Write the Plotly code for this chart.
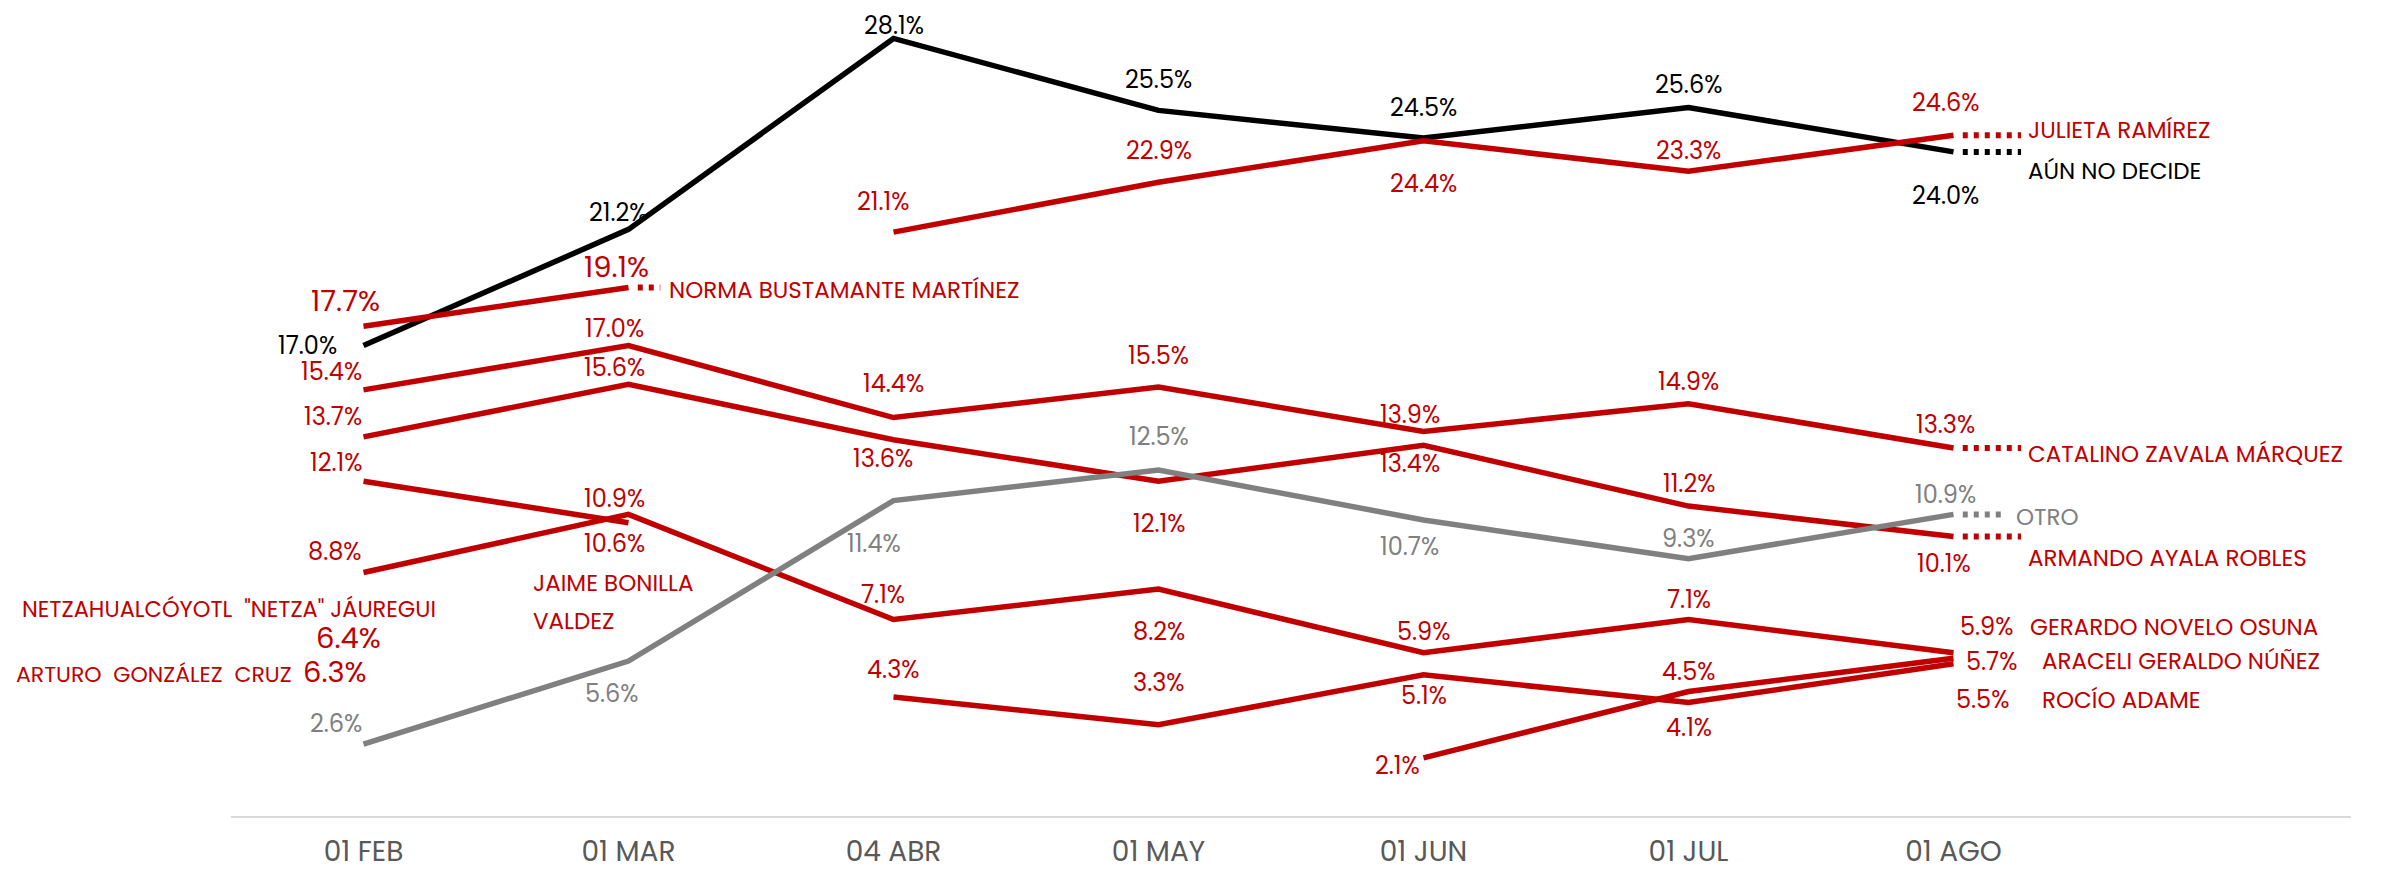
import plotly.graph_objects as go

# --- datos ---
fechas = ["01 FEB", "01 MAR", "04 ABR", "01 MAY", "01 JUN", "01 JUL", "01 AGO"]

aun_no_decide = [17.0, 21.2, 28.1, 25.5, 24.5, 25.6, 24.0]
julieta_ramirez = [None, None, 21.1, 22.9, 24.4, 23.3, 24.6]
norma_bustamante = [17.7, 19.1, None, None, None, None, None]
catalino_zavala = [15.4, 17.0, 14.4, 15.5, 13.9, 14.9, 13.3]
armando_ayala = [13.7, 15.6, 13.6, 12.1, 13.4, 11.2, 10.1]
jaime_bonilla = [12.1, 10.6, None, None, None, None, None]
gerardo_novelo = [8.8, 10.9, 7.1, 8.2, 5.9, 7.1, 5.9]
rocio_adame = [None, None, 4.3, 3.3, 5.1, 4.1, 5.5]
araceli_geraldo = [None, None, None, None, 2.1, 4.5, 5.7]
otro = [2.6, 5.6, 11.4, 12.5, 10.7, 9.3, 10.9]
netza_jauregui = [6.4, None, None, None, None, None, None]
arturo_gonzalez = [6.3, None, None, None, None, None, None]

ROJO = "#c00000"
NEGRO = "#000000"
GRIS = "#808080"
FUENTE = "Poppins, Inter, sans-serif"
VAL = 24   # value label size
BIG = 29   # larger value labels
NOM = 23   # candidate name size

# label placement per point: (xshift, yshift, xanchor, size)
series = [
    dict(nombre="AÚN NO DECIDE", valores=aun_no_decide, color=NEGRO, dots=0.255,
         name_pos=(72, -19),
         labels=[(-25, 0, "right", VAL), (-10, 17, "center", VAL), (0, 13, "center", VAL),
                 (0, 31, "center", VAL), (0, 31, "center", VAL), (0, 23, "center", VAL),
                 (-8, -44, "center", VAL)]),
    dict(nombre="JULIETA RAMÍREZ", valores=julieta_ramirez, color=ROJO, dots=0.255,
         name_pos=(72, 5),
         labels=[None, None, (-11, 31, "center", VAL), (0, 32, "center", VAL),
                 (0, -43, "center", VAL), (0, 21, "center", VAL), (-8, 33, "center", VAL)]),
    dict(nombre="NORMA BUSTAMANTE MARTÍNEZ", valores=norma_bustamante, color=ROJO, dots=0.12,
         name_pos=(38, -3),
         labels=[(-18, 25, "center", BIG), (-12, 20, "center", BIG)]),
    dict(nombre="CATALINO ZAVALA MÁRQUEZ", valores=catalino_zavala, color=ROJO, dots=0.255,
         name_pos=(72, -6),
         labels=[(0, 18, "right", VAL), (-14, 17, "center", VAL), (0, 34, "center", VAL),
                 (0, 32, "center", VAL), (-14, 17, "center", VAL), (0, 22, "center", VAL),
                 (-8, 23, "center", VAL)]),
    dict(nombre="ARMANDO AYALA ROBLES", valores=armando_ayala, color=ROJO, dots=0.255,
         name_pos=(72, -21),
         labels=[(0, 20, "right", VAL), (-14, 17, "center", VAL), (-11, -19, "center", VAL),
                 (0, -42, "center", VAL), (-14, -18, "center", VAL), (0, 23, "center", VAL),
                 (-10, -27, "center", VAL)]),
    dict(nombre=None, valores=jaime_bonilla, color=ROJO, dots=0,
         labels=[(0, 19, "right", VAL), (-14, -21, "center", VAL)]),
    dict(nombre="GERARDO NOVELO OSUNA", valores=gerardo_novelo, color=ROJO, dots=0,
         name_pos=(74, 26),
         labels=[(0, 21, "right", VAL), (-14, 16, "center", VAL), (-11, 25, "center", VAL),
                 (0, -42, "center", VAL), (0, 21, "center", VAL), (0, 20, "center", VAL),
                 (4, 26, "left", VAL)]),
    dict(nombre="ROCÍO ADAME", valores=rocio_adame, color=ROJO, dots=0,
         name_pos=(86, -36),
         labels=[None, None, (0, 28, "center", VAL), (0, 42, "center", VAL),
                 (0, -21, "center", VAL), (0, -25, "center", VAL), (0, -36, "left", VAL)]),
    dict(nombre="ARACELI GERALDO NÚÑEZ", valores=araceli_geraldo, color=ROJO, dots=0,
         name_pos=(86, -3),
         labels=[None, None, None, None, (-2, -8, "right", VAL), (0, 20, "center", VAL),
                 (10, -3, "left", VAL)]),
    dict(nombre="OTRO", valores=otro, color=GRIS, dots=0.2,
         name_pos=(60, -3),
         labels=[(0, 21, "right", VAL), (-17, -32, "center", VAL), (-20, -43, "center", VAL),
                 (0, 34, "center", VAL), (-14, -27, "center", VAL), (0, 20, "center", VAL),
                 (-8, 20, "center", VAL)]),
    dict(nombre=None, valores=netza_jauregui, color=ROJO, dots=0,
         labels=[(-15, 1, "center", BIG)]),
    dict(nombre=None, valores=arturo_gonzalez, color=ROJO, dots=0,
         labels=[(-29, -30, "center", BIG)]),
]

x = list(range(len(fechas)))

fig = go.Figure()

for s in series:
    vals = s["valores"]
    fig.add_trace(go.Scatter(
        x=x, y=vals, mode="lines",
        line=dict(color=s["color"], width=5.5),
        connectgaps=False, hoverinfo="skip",
    ))
    # last valid point
    last = max(i for i, v in enumerate(vals) if v is not None)
    if s["dots"]:
        fig.add_trace(go.Scatter(
            x=[last + 0.035, last + s["dots"]], y=[vals[last], vals[last]], mode="lines",
            line=dict(color=s["color"], width=6, dash="5px,6px"),
            hoverinfo="skip",
        ))
    for i, v in enumerate(vals):
        if v is None or i >= len(s["labels"]) or s["labels"][i] is None:
            continue
        dx, dy, anchor, size = s["labels"][i]
        fig.add_annotation(
            x=i, y=v, text=f"{v:.1f}%", showarrow=False,
            xshift=dx, yshift=dy, xanchor=anchor,
            font=dict(family=FUENTE, size=size, color=s["color"]),
        )
    if s["nombre"]:
        dx, dy = s["name_pos"]
        fig.add_annotation(
            x=last, y=vals[last], text=s["nombre"], showarrow=False,
            xshift=dx, yshift=dy, xanchor="left",
            font=dict(family=FUENTE, size=NOM, color=s["color"]),
        )

# names for the lone / short series
fig.add_annotation(x=1, y=jaime_bonilla[1], text="JAIME BONILLA", showarrow=False,
                   xanchor="left", xshift=-98, yshift=-60,
                   font=dict(family=FUENTE, size=NOM, color=ROJO))
fig.add_annotation(x=1, y=jaime_bonilla[1], text="VALDEZ", showarrow=False,
                   xanchor="left", xshift=-98, yshift=-98,
                   font=dict(family=FUENTE, size=NOM, color=ROJO))
fig.add_annotation(x=0, y=netza_jauregui[0], text='NETZAHUALCÓYOTL  "NETZA" JÁUREGUI',
                   showarrow=False, xanchor="right", xshift=74, yshift=30,
                   font=dict(family=FUENTE, size=22.5, color=ROJO))
fig.add_annotation(x=0, y=arturo_gonzalez[0], text="ARTURO  GONZÁLEZ  CRUZ",
                   showarrow=False, xanchor="right", xshift=-70, yshift=-33,
                   font=dict(family=FUENTE, size=22, color=ROJO))

fig.update_layout(
    width=2407, height=870,
    margin=dict(l=223, r=64, t=0, b=62),
    plot_bgcolor="white", paper_bgcolor="white",
    showlegend=False, hovermode=False,
    font=dict(family=FUENTE),
)
fig.update_xaxes(
    range=[-0.5, 7.5], tickvals=x, ticktext=fechas,
    showgrid=False, zeroline=False, showline=True,
    linecolor="#d9d9d9", linewidth=2, ticks="",
    ticklabelstandoff=9,
    tickfont=dict(family=FUENTE, size=28, color="#595959"),
)
fig.update_yaxes(range=[0, 29.2], visible=False)

fig.write_html("out.html")
